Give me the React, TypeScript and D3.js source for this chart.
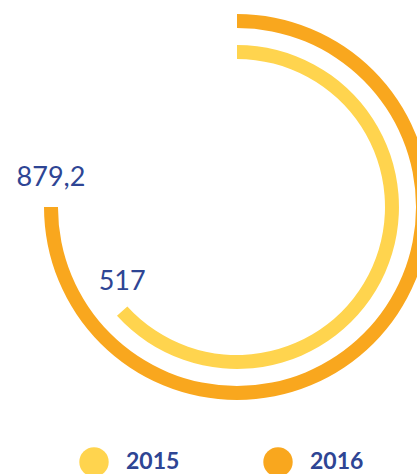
import React, { useEffect, useRef } from 'react';
import * as d3 from 'd3';

// values
const years = ['2015', '2016'];
const values = [517, 879.2];
const labels = ['517', '879,2'];
const colors = ['#FFD44E', '#F9A71E'];

const W = 417;
const H = 474;

const App: React.FC = () => {
  const svgRef = useRef<SVGSVGElement>(null);

  useEffect(() => {
    if (!svgRef.current) return;
    const svg = d3.select(svgRef.current);
    svg.selectAll('*').remove();

    const cx = 237;
    const cy = 207;

    // the picture's rings are not proportional: a soft power scale fits them
    const angle = d3.scalePow().exponent(0.32).domain([0, 879.2]).range([0, Math.PI * 1.5]);
    const ring = d3.scaleBand<string>().domain(years).range([148, 193]).paddingInner(0.55);

    const g = svg.append('g').attr('transform', `translate(${cx},${cy})`);
    const arc = d3.arc<any>();

    years.forEach((y, i) => {
      const r0 = ring(y)!;
      const r1 = r0 + ring.bandwidth();
      const end = angle(values[i]);
      g.append('path')
        .attr('d', arc({ innerRadius: r0, outerRadius: r1, startAngle: 0, endAngle: end }) as string)
        .attr('fill', colors[i]);

      const rm = (r0 + r1) / 2;
      const ex = Math.sin(end) * rm;
      const ey = -Math.cos(end) * rm;
      g.append('text')
        .attr('x', ex)
        .attr('y', ey - 21)
        .attr('text-anchor', 'middle')
        .attr('font-family', 'Lato, sans-serif')
        .attr('font-size', 27)
        .attr('fill', '#2E4594')
        .text(labels[i]);
    });

    const legendX = d3.scalePoint<string>().domain(years).range([94, 278]);
    const legend = svg.append('g');
    years.forEach((y, i) => {
      const x = legendX(y)!;
      legend.append('circle')
        .attr('cx', x)
        .attr('cy', 462)
        .attr('r', 14.7)
        .attr('fill', colors[i]);
      legend.append('text')
        .attr('x', x + 32)
        .attr('y', 469)
        .attr('font-family', 'Lato, sans-serif')
        .attr('font-weight', 'bold')
        .attr('font-size', 23)
        .attr('fill', '#2E4594')
        .text(y);
    });
  }, []);

  return (
    <svg
      ref={svgRef}
      width={W}
      height={H}
      style={{ position: 'absolute', left: 0, top: 0, background: '#fff' }}
    ></svg>
  );
};

export default App;
